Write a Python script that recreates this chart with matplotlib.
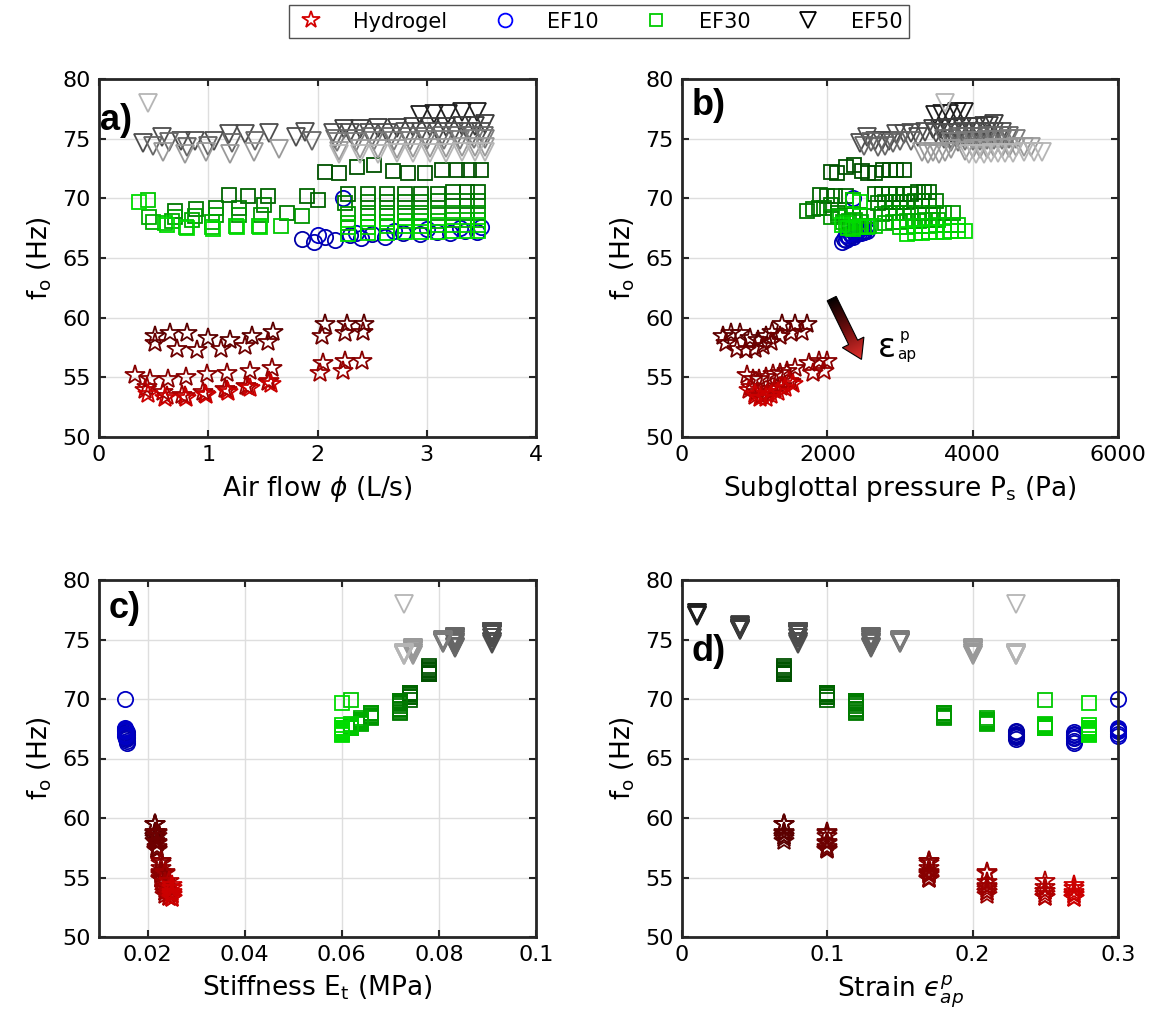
import numpy as np
import matplotlib
matplotlib.use('Agg')
import matplotlib.pyplot as plt
from matplotlib.patches import Polygon
from matplotlib.colors import LinearSegmentedColormap
from matplotlib.lines import Line2D

# ---- Hydrogel (stars), one entry per pre-strain ----
hyd_strain = [0.07, 0.10, 0.17, 0.21, 0.25, 0.27]
hyd_E = [0.0215, 0.022, 0.0228, 0.0235, 0.0245, 0.025]
hyd_flow = [[0.51, 0.65, 0.81, 1.00, 1.20, 1.40, 1.59, 2.07, 2.27, 2.43],
            [0.51, 0.71, 0.90, 1.12, 1.34, 1.55, 2.04, 2.25, 2.42],
            [0.33, 0.47, 0.63, 0.80, 0.99, 1.17, 1.38, 1.58, 2.05, 2.25, 2.41],
            [0.44, 0.59, 0.76, 0.95, 1.15, 1.35, 1.55, 2.02, 2.23],
            [0.42, 0.62, 0.79, 0.97, 1.17, 1.36, 1.56],
            [0.45, 0.60, 0.80, 0.98, 1.18, 1.38, 1.57]]
hyd_ps = [[560, 680, 800, 930, 1050, 1150, 1240, 1380, 1550, 1720],
          [600, 760, 880, 1000, 1120, 1220, 1350, 1500, 1650],
          [900, 980, 1060, 1150, 1250, 1350, 1450, 1560, 1750, 1880, 2000],
          [950, 1030, 1100, 1180, 1280, 1380, 1500, 1800, 1950],
          [920, 1010, 1090, 1170, 1260, 1360, 1470],
          [1000, 1080, 1150, 1230, 1320, 1420, 1530]]
hyd_f0 = [[58.5, 58.7, 58.7, 58.3, 58.1, 58.5, 58.8, 59.5, 59.5, 59.5],
          [57.9, 57.4, 57.3, 57.4, 57.6, 58.0, 58.5, 58.7, 58.8],
          [55.2, 54.9, 54.9, 55.0, 55.3, 55.4, 55.5, 55.8, 56.2, 56.4, 56.4],
          [54.2, 53.8, 53.5, 53.8, 54.0, 54.3, 54.6, 55.4, 55.5],
          [53.9, 53.4, 53.4, 53.6, 53.9, 54.2, 54.7],
          [53.6, 53.3, 53.3, 53.5, 53.8, 54.1, 54.4]]

# ---- EF10 (circles) ----
ef10_strain = [0.23, 0.27, 0.30]
ef10_E = [0.0155, 0.0157, 0.0153]
ef10_flow = [[1.86, 2.07, 2.30, 2.50, 2.78, 3.09, 3.35],
             [1.97, 2.16, 2.40, 2.62, 2.94, 3.21, 3.46],
             [2.23, 2.00, 2.35, 2.70, 3.00, 3.30, 3.50]]
ef10_ps = [[2230, 2280, 2330, 2380, 2430, 2490, 2540],
           [2200, 2250, 2300, 2350, 2400, 2460, 2510],
           [2350, 2260, 2310, 2370, 2420, 2480, 2530]]
ef10_f0 = [[66.6, 66.8, 66.9, 67.0, 67.1, 67.2, 67.3],
           [66.3, 66.5, 66.7, 66.8, 67.0, 67.1, 67.2],
           [70.0, 66.9, 67.1, 67.3, 67.4, 67.5, 67.6]]

# ---- EF30 (squares) ----
ef30_strain = [0.07, 0.10, 0.12, 0.18, 0.21, 0.25, 0.28]
ef30_E = [0.078, 0.074, 0.072, 0.066, 0.064, 0.062, 0.060]
ef30_flow = [[2.07, 2.20, 2.36, 2.52, 2.69, 2.83, 2.98, 3.14, 3.28, 3.39, 3.50],
             [1.19, 1.36, 1.55, 1.90, 2.00, 2.28, 2.46, 2.64, 2.80, 2.95, 3.10, 3.24, 3.37, 3.47],
             [0.70, 0.89, 1.07, 1.28, 1.51, 1.72, 2.25, 2.46, 2.64, 2.80, 2.95, 3.10, 3.24, 3.37, 3.47],
             [0.70, 0.88, 1.07, 1.28, 1.48, 1.86, 2.28, 2.46, 2.64, 2.80, 2.95, 3.10, 3.24, 3.37, 3.47],
             [0.46, 0.49, 0.67, 0.85, 1.03, 2.28, 2.46, 2.64, 2.80, 2.95, 3.10, 3.24, 3.37, 3.47],
             [0.45, 0.60, 0.80, 1.03, 1.25, 1.46, 1.67, 2.28, 2.46, 2.64, 2.80, 2.95, 3.10, 3.24, 3.37, 3.47],
             [0.37, 0.62, 0.81, 1.04, 1.26, 1.47, 2.28, 2.46, 2.64, 2.80, 2.95, 3.10, 3.24, 3.37, 3.47]]
ef30_ps = [[2050, 2130, 2250, 2370, 2480, 2560, 2650, 2760, 2860, 2950, 3050],
           [1900, 2000, 2100, 2250, 2350, 2650, 2750, 2850, 2950, 3050, 3150, 3250, 3330, 3400],
           [1720, 1800, 1880, 1960, 2050, 2150, 2700, 2800, 2900, 3000, 3100, 3200, 3300, 3400, 3500],
           [2050, 2150, 2250, 2350, 2450, 2550, 2750, 2850, 2950, 3050, 3150, 3300, 3450, 3600, 3730],
           [2170, 2220, 2300, 2380, 2460, 2800, 2900, 3000, 3100, 3180, 3260, 3350, 3440, 3520],
           [2350, 2250, 2330, 2420, 2500, 2580, 2660, 3000, 3100, 3200, 3300, 3400, 3500, 3600, 3700, 3800],
           [2450, 2200, 2280, 2360, 2450, 2550, 3100, 3200, 3300, 3400, 3500, 3600, 3700, 3800, 3900]]
ef30_f0 = [[72.2, 72.1, 72.6, 72.8, 72.3, 72.1, 72.1, 72.4, 72.4, 72.4, 72.4],
           [70.3, 70.2, 70.2, 70.2, 69.9, 70.4, 70.4, 70.4, 70.4, 70.4, 70.4, 70.5, 70.5, 70.5],
           [68.9, 69.1, 69.2, 69.2, 69.4, 68.8, 69.6, 69.7, 69.7, 69.7, 69.7, 69.8, 69.8, 69.8, 69.8],
           [68.4, 68.5, 68.6, 68.6, 68.6, 68.5, 68.7, 68.8, 68.8, 68.8, 68.8, 68.8, 68.8, 68.8, 68.8],
           [68.4, 68.0, 68.1, 68.2, 68.0, 67.9, 68.0, 68.0, 68.1, 68.1, 68.1, 68.2, 68.2, 68.2],
           [69.9, 67.9, 67.6, 67.6, 67.7, 67.7, 67.7, 67.6, 67.6, 67.7, 67.7, 67.7, 67.8, 67.8, 67.8, 67.8],
           [69.7, 67.8, 67.5, 67.4, 67.6, 67.6, 67.0, 67.1, 67.1, 67.2, 67.2, 67.2, 67.3, 67.3, 67.3]]

# ---- EF50 (triangles) ----
ef50_strain = [0.01, 0.04, 0.08, 0.13, 0.15, 0.20, 0.23]
ef50_E = [0.105, 0.103, 0.091, 0.0833, 0.0808, 0.0746, 0.0728]
ef50_flow = [[2.94, 3.07, 3.19, 3.32, 3.46],
             [2.24, 2.39, 2.55, 2.73, 2.87, 3.03, 3.18, 3.32, 3.44, 3.53],
             [0.40, 0.58, 0.75, 0.88, 1.05, 1.19, 1.34, 1.56, 1.80, 1.89,
              2.14, 2.30, 2.47, 2.64, 2.80, 2.95, 3.10, 3.25, 3.38, 3.50],
             [0.49, 0.64, 0.81, 1.00, 1.22, 1.43, 1.95, 2.16, 2.33, 2.50, 2.67, 2.83, 2.98, 3.14, 3.28, 3.41, 3.52],
             [2.18, 2.35, 2.52, 2.70, 2.85, 3.00, 3.16, 3.30, 3.43, 3.53],
             [0.59, 0.79, 0.98, 1.20, 1.42, 1.65, 2.20, 2.39, 2.55, 2.73, 2.87, 3.03, 3.18, 3.32, 3.44, 3.53],
             [0.45, 2.20, 2.39, 2.55, 2.73, 2.87, 3.03, 3.18, 3.32, 3.44, 3.53]]
ef50_ps = [[3480, 3580, 3680, 3780, 3880],
           [3450, 3550, 3650, 3750, 3850, 3950, 4050, 4150, 4230, 4300],
           [2450, 2550, 2650, 2750, 2850, 2950, 3050, 3150, 3250, 3350,
            3500, 3600, 3700, 3800, 3900, 4000, 4100, 4200, 4300, 4400],
           [2500, 2600, 2700, 2800, 2900, 3000, 3150, 3600, 3700, 3800, 3900, 4000, 4100, 4200, 4300, 4400, 4500],
           [3700, 3800, 3900, 4000, 4100, 4200, 4300, 4400, 4500, 4600],
           [3300, 3380, 3460, 3540, 3620, 3700, 3900, 4000, 4100, 4200, 4300, 4400, 4500, 4600, 4700, 4800],
           [3620, 3950, 4050, 4150, 4250, 4350, 4450, 4550, 4700, 4850, 4950]]
ef50_f0 = [[77.0, 77.1, 77.1, 77.2, 77.2],
           [75.8, 75.8, 75.9, 75.9, 76.0, 76.0, 76.0, 76.1, 76.1, 76.2],
           [74.6, 75.1, 74.8, 74.8, 74.8, 75.4, 75.4, 75.5, 75.1, 75.6,
            75.5, 75.5, 75.5, 75.5, 75.6, 75.6, 75.6, 75.6, 75.6, 75.6],
           [74.4, 74.7, 74.3, 74.4, 74.6, 74.8, 74.8, 75.0, 75.0, 75.1, 75.1, 75.1, 75.1, 75.2, 75.2, 75.2, 75.2],
           [74.7, 74.7, 74.8, 74.8, 74.8, 74.9, 74.9, 74.9, 75.0, 75.0],
           [73.9, 73.7, 73.9, 73.7, 73.9, 74.1, 74.0, 74.1, 74.1, 74.1, 74.2, 74.2, 74.2, 74.3, 74.3, 74.3],
           [78.0, 73.7, 73.7, 73.7, 73.8, 73.8, 73.8, 73.8, 73.9, 73.9, 73.9]]

# colours per strain (dark -> light)
hyd_colors = ['#5c0000', '#6e0000', '#880000', '#9c0000', '#b00000', '#cc0000']
ef10_colors = ['#0000a8', '#0000b4', '#0000c4']
ef30_colors = ['#005200', '#006400', '#007a00', '#009600', '#00ac00', '#00c800', '#00dc00']
ef50_colors = ['#1e1e1e', '#3a3a3a', '#4d4d4d', '#666666', '#7a7a7a', '#999999', '#b5b5b5']

materials = [
    ('Hydrogel', '*', 14.5, '#d40000', hyd_strain, hyd_E, hyd_flow, hyd_ps, hyd_f0, hyd_colors),
    ('EF10', 'o', 11, '#0000ff', ef10_strain, ef10_E, ef10_flow, ef10_ps, ef10_f0, ef10_colors),
    ('EF30', 's', 9.5, '#00cc00', ef30_strain, ef30_E, ef30_flow, ef30_ps, ef30_f0, ef30_colors),
    ('EF50', 'v', 13, '#000000', ef50_strain, ef50_E, ef50_flow, ef50_ps, ef50_f0, ef50_colors),
]

fig = plt.figure(figsize=(11.67, 10.35), dpi=100)
W, H = 1167, 1035
def axes_px(l, t, r, b):
    return fig.add_axes([l / W, 1 - b / H, (r - l) / W, (b - t) / H])

ax_a = axes_px(99, 79, 536, 437)
ax_b = axes_px(682, 79, 1118, 437)
ax_c = axes_px(99, 580, 536, 937)
ax_d = axes_px(682, 580, 1118, 937)

for name, mk, ms, lc, strain, E, flow, ps, f0, cols in materials:
    for i in range(len(strain)):
        n = len(f0[i])
        kw = dict(ls='none', marker=mk, ms=ms, mfc='none', mec=cols[i], mew=1.3)
        ax_a.plot(flow[i], f0[i], **kw)
        ax_b.plot(ps[i], f0[i], **kw)
        ax_c.plot([E[i]] * n, f0[i], **kw)
        ax_d.plot([strain[i]] * n, f0[i], clip_on=False, **kw)

def style(ax, xlim, xticks, xlabels, xlabel, tag, tagpos):
    ax.set_xlim(xlim)
    ax.set_ylim(50, 80)
    ax.set_xticks(xticks)
    ax.set_xticklabels(xlabels)
    ax.set_yticks([50, 55, 60, 65, 70, 75, 80])
    ax.grid(True, color='#dedede', lw=1.0)
    ax.set_axisbelow(True)
    ax.tick_params(direction='in', top=True, right=True, length=5, width=1.5,
                   labelsize=16, colors='#262626', labelcolor='black', pad=6)
    for sp in ax.spines.values():
        sp.set_linewidth(2)
        sp.set_color('#262626')
    ax.set_xlabel(xlabel, fontsize=19, labelpad=6)
    ax.set_ylabel(r'f$_\mathregular{o}$ (Hz)', fontsize=19, labelpad=6)
    ax.text(tagpos[0], tagpos[1], tag, transform=ax.transAxes, fontsize=26,
            fontweight='bold', family='Liberation Sans', ha='left', va='center', zorder=5)

style(ax_a, (0, 4), [0, 1, 2, 3, 4], ['0', '1', '2', '3', '4'],
      r'Air flow $\phi$ (L/s)', 'a)', (0.002, 0.885))
style(ax_b, (0, 6000), [0, 2000, 4000, 6000], ['0', '2000', '4000', '6000'],
      r'Subglottal pressure P$_\mathregular{s}$ (Pa)', 'b)', (0.022, 0.925))
style(ax_c, (0.01, 0.1), [0.02, 0.04, 0.06, 0.08, 0.1], ['0.02', '0.04', '0.06', '0.08', '0.1'],
      r'Stiffness E$_\mathregular{t}$ (MPa)', 'c)', (0.022, 0.92))
style(ax_d, (0, 0.3), [0, 0.1, 0.2, 0.3], ['0', '0.1', '0.2', '0.3'],
      r'Strain $ϵ^{p}_{ap}$', 'd)', (0.022, 0.80))

# gradient arrow in panel b
def grad_arrow(ax, start, end, sw=10, hw=24, hl=19):
    p0 = ax.transData.transform(start)
    p1 = ax.transData.transform(end)
    d = p1 - p0
    L = np.hypot(*d)
    u = d / L
    nrm = np.array([-u[1], u[0]])
    pb = p1 - u * hl
    pts = [p0 + nrm * sw / 2, pb + nrm * sw / 2, pb + nrm * hw / 2, p1,
           pb - nrm * hw / 2, pb - nrm * sw / 2, p0 - nrm * sw / 2]
    poly = ax.transData.inverted().transform(np.array(pts))
    patch = Polygon(poly, closed=True, fc='none', ec='black', lw=0.8, zorder=6)
    ax.add_patch(patch)
    x0, y0 = poly.min(axis=0)
    x1, y1 = poly.max(axis=0)
    xs = np.linspace(x0, x1, 120)
    ys = np.linspace(y0, y1, 120)
    XX, YY = np.meshgrid(xs, ys)
    P = ax.transData.transform(np.column_stack([XX.ravel(), YY.ravel()]))
    t = np.clip(((P - p0) @ u) / L, 0, 1).reshape(XX.shape)
    cmap = LinearSegmentedColormap.from_list('arr', ['#000000', '#6a0d0d', '#e3302c'])
    im = ax.imshow(t, extent=(x0, x1, y0, y1), origin='lower', cmap=cmap,
                   aspect='auto', interpolation='bilinear', zorder=5)
    im.set_clip_path(patch)
    ax.set_xlim(0, 6000)
    ax.set_ylim(50, 80)

grad_arrow(ax_b, (2060, 61.6), (2470, 56.5))
ax_b.text(2700, 57.5, 'ε', fontsize=24, ha='left', va='center')
ax_b.text(2990, 58.5, 'p', fontsize=11, ha='left', va='center')
ax_b.text(2960, 56.9, 'ap', fontsize=11, ha='left', va='center')

handles = [Line2D([], [], ls='none', marker=m[1], ms=m[2] * 0.9, mfc='none', mec=m[3], mew=1.3)
           for m in materials]
fig.legend(handles, [m[0] for m in materials], loc='center', bbox_to_anchor=(0.513, 0.979),
           ncol=4, fontsize=15, frameon=True, fancybox=False, edgecolor='#262626',
           handlelength=1.5, handletextpad=1.3, columnspacing=2.0, borderpad=0.3)

fig.savefig('out.png', dpi=100)
